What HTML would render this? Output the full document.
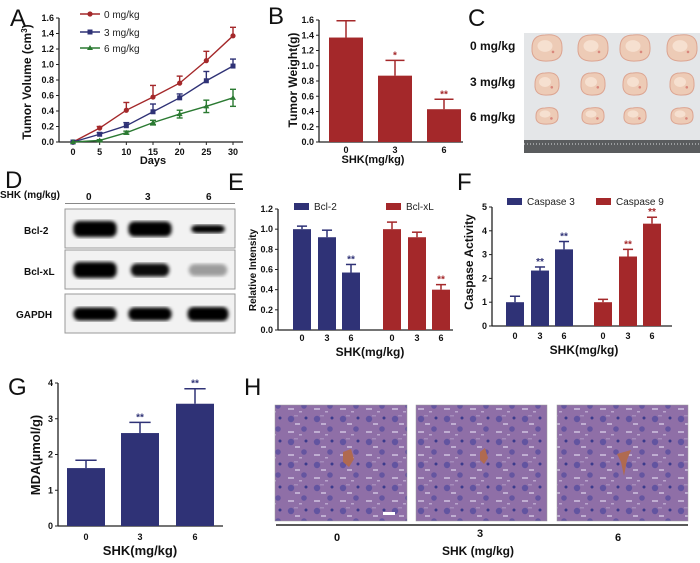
<!DOCTYPE html>
<html><head><meta charset="utf-8"><style>
body{margin:0;background:#fff}
svg{display:block;font-family:"Liberation Sans",Arial,sans-serif}
.t{font-size:9px;font-weight:bold;fill:#111}
.ti{font-size:11px;font-weight:bold;fill:#111}
.L{font-size:24px;fill:#111}
</style></head><body>
<svg id="s" width="700" height="563" viewBox="0 0 700 563" xmlns="http://www.w3.org/2000/svg">
<defs>
<filter id="bl2"><feGaussianBlur stdDeviation="1.8"/></filter>
<pattern id="hist" width="26" height="23" patternUnits="userSpaceOnUse">
<rect width="26" height="23" fill="#8f6fa7"/>
<circle cx="5" cy="5" r="3.2" fill="#5a4f9f" opacity="0.85"/>
<circle cx="18" cy="15" r="2.8" fill="#5a4f9f" opacity="0.8"/>
<circle cx="20" cy="4" r="1.5" fill="#3b3a8c"/>
<rect x="9" y="9" width="5" height="2" fill="#cbbddc" opacity="0.8"/>
<rect x="2" y="17" width="6" height="2" fill="#cbbddc" opacity="0.8"/>
<rect x="13" y="20" width="3" height="1.5" fill="#cbbddc" opacity="0.7"/>
<rect x="8" y="1" width="4" height="1.5" fill="#a58cbb"/>
</pattern>
</defs>
<g id="root"></g>
<text class="L" x="10" y="26">A</text>
<text class="L" x="268" y="24">B</text>
<text class="L" x="468" y="26">C</text>
<text class="L" x="5" y="188">D</text>
<text class="L" x="228" y="190">E</text>
<text class="L" x="457" y="190">F</text>
<text class="L" x="8" y="395">G</text>
<text class="L" x="244" y="395">H</text>

<g>
<rect x="524" y="33" width="176" height="120" fill="#e4e6e8"/>
<rect x="524" y="140" width="176" height="13" fill="#5a5c5e"/>
<line x1="524" y1="144" x2="700" y2="144" stroke="#9a9c9e" stroke-width="2" stroke-dasharray="1 2"/>
<g id="tumors"></g>
</g>
<text class="ti" x="470" y="50" style="font-size:12px">0 mg/kg</text>
<text class="ti" x="470" y="86" style="font-size:12px">3 mg/kg</text>
<text class="ti" x="470" y="121" style="font-size:12px">6 mg/kg</text>

<g>
<text class="t" x="0" y="198" style="font-size:10px">SHK (mg/kg)</text>
<text class="t" x="86" y="200" style="font-size:10px">0</text>
<text class="t" x="145" y="200" style="font-size:10px">3</text>
<text class="t" x="206" y="200" style="font-size:10px">6</text>
<line x1="65" y1="203.5" x2="235" y2="203.5" stroke="#888" stroke-width="1"/>
<text class="t" x="24" y="234" style="font-size:10px">Bcl-2</text>
<text class="t" x="24" y="275" style="font-size:10px">Bcl-xL</text>
<text class="t" x="16" y="318" style="font-size:10px">GAPDH</text>
<g id="blot"></g>
</g>

<g>
<rect x="275" y="405" width="132" height="116" fill="url(#hist)" stroke="#999" stroke-width="0.5"/>
<rect x="416" y="405" width="131" height="116" fill="url(#hist)" stroke="#999" stroke-width="0.5"/>
<rect x="557" y="405" width="131" height="116" fill="url(#hist)" stroke="#999" stroke-width="0.5"/>
<path d="M343 452 l8 -3 l3 10 l-5 8 l-6 -5z" fill="#b06a50"/>
<path d="M480 452 l5 -4 l3 10 l-4 6 l-4 -4z" fill="#b06a50"/>
<path d="M617 454 l14 -4 l-4 10 l-3 16 l-3 -14z" fill="#b06a50"/>
<rect x="383" y="512" width="12" height="3" fill="#fff"/>
<line x1="276" y1="525" x2="688" y2="525" stroke="#222" stroke-width="1.5"/>
<text class="ti" x="337" y="541" text-anchor="middle">0</text>
<text class="ti" x="480" y="537" text-anchor="middle">3</text>
<text class="ti" x="618" y="541" text-anchor="middle">6</text>
<text class="ti" x="478" y="555" text-anchor="middle" style="font-size:12px">SHK (mg/kg)</text>
</g>
</svg>
<script>
const daysA = [0,5,10,15,20,25,30];
const volCtrl = [0,0.18,0.41,0.58,0.76,1.05,1.37];
const volCtrlErr = [0,0.02,0.1,0.15,0.09,0.12,0.11];
const vol3 = [0,0.1,0.21,0.39,0.57,0.79,0.98];
const vol3Err = [0,0.02,0.04,0.1,0.05,0.12,0.09];
const vol6 = [0,0.02,0.12,0.25,0.36,0.46,0.57];
const vol6Err = [0,0.01,0.02,0.03,0.05,0.08,0.11];
const ticksA = [0,0.2,0.4,0.6,0.8,1.0,1.2,1.4,1.6];
const doseCats = ["0","3","6"];
const weightB = [1.37,0.87,0.43];
const weightBErr = [0.22,0.2,0.13];
const starsB = ["","*","**"];
const bcl2 = [1.0,0.92,0.57];
const bcl2Err = [0.03,0.07,0.08];
const bclxl = [1.0,0.92,0.4];
const bclxlErr = [0.07,0.05,0.05];
const starsE = ["","","**"];
const ticksE = [0,0.2,0.4,0.6,0.8,1.0,1.2];
const casp3 = [1,2.33,3.22];
const casp3Err = [0.25,0.15,0.33];
const casp9 = [1,2.92,4.3];
const casp9Err = [0.12,0.3,0.27];
const starsF = ["","**","**"];
const ticksF = [0,1,2,3,4,5];
const mda = [1.62,2.6,3.42];
const mdaErr = [0.22,0.3,0.42];
const starsG = ["","**","**"];
const ticksG = [0,1,2,3,4];

const NS="http://www.w3.org/2000/svg";
const root=document.getElementById('root');
function el(tag,attrs,parent,txt){const e=document.createElementNS(NS,tag);for(const k in attrs)e.setAttribute(k,attrs[k]);if(txt!==undefined)e.textContent=txt;(parent||root).appendChild(e);return e;}
const BLUE="#2f3276", RED="#a4282a", GREEN="#2b7a32";

function axes(g,x0,x1,y0,ticks,ys,fmt){
  const ax=el('line',{x1:x0,y1:ys(ticks[ticks.length-1]),x2:x0,y2:y0,stroke:'#222','stroke-width':1.3},g);
  
  
  const bx=el('line',{x1:x0,y1:y0,x2:x1,y2:y0,stroke:'#222','stroke-width':1.3},g);
  
  
  ticks.forEach(t=>{const y=ys(t);
    el('line',{x1:x0-3,y1:y,x2:x0,y2:y,stroke:'#222','stroke-width':1},g);
    const tl=el('text',{x:x0-5,y:y+3,'text-anchor':'end',class:'t'},g,fmt(t));
    
    
  });
}
function ytitle(g,x,y,txt,size){const t=el('text',{x:x,y:y,transform:`rotate(-90 ${x} ${y})`,'text-anchor':'middle',class:'ti',style:`font-size:${size||11}px`},g,txt);
  
  }
function xtitle(g,x,y,txt,size){const t=el('text',{x:x,y:y,'text-anchor':'middle',class:'ti',style:`font-size:${size||12}px`},g,txt);
  
  }
function bar(g,cx,w,v,err,ys,y0,color,star,name){
  const top=ys(v), et=ys(v+err);
  el('line',{x1:cx,y1:top,x2:cx,y2:et,stroke:color,'stroke-width':1.5},g);
  el('line',{x1:cx-w*0.28,y1:et,x2:cx+w*0.28,y2:et,stroke:color,'stroke-width':1.5},g);
  const r=el('rect',{x:cx-w/2,y:top,width:w,height:y0-top,fill:color},g);
  
  
  if(star){const s=el('text',{x:cx,y:et-2,'text-anchor':'middle',fill:color,style:'font-size:10px;font-weight:bold'},g,star);
    
    }
}
function xlabel(g,x,y,t){const l=el('text',{x:x,y:y,'text-anchor':'middle',class:'t'},g,t);
  
  }

(function(){
  const g=el('g',{});  
  const xs=d=>73+d/30*160, ys=v=>142-v/1.6*124;
  axes(g,59,243,142,ticksA,ys,t=>t.toFixed(1));
  daysA.forEach(d=>{el('line',{x1:xs(d),y1:142,x2:xs(d),y2:145,stroke:'#222'},g);xlabel(g,xs(d),155,d);});
  xtitle(g,153,164,'Days',11);
  const yt=el('text',{x:31,y:82,transform:'rotate(-90 31 82)','text-anchor':'middle',class:'ti',style:'font-size:12px'},g);
  
  
  el('tspan',{},yt,'Tumor Volume (cm');el('tspan',{dy:-4,style:'font-size:8px'},yt,'3');el('tspan',{dy:4},yt,')');
  const series=[[volCtrl,volCtrlErr,RED,'circle','series-0mg'],[vol3,vol3Err,BLUE,'square','series-3mg'],[vol6,vol6Err,GREEN,'tri','series-6mg']];
  series.forEach(([v,e,c,m,n],si)=>{
    const sg=el('g',{},g);  
    v.forEach((val,i)=>{ if(e[i]>0){const x=xs(daysA[i]);
      const lo= si===2? ys(val-e[i]) : ys(val);
      el('line',{x1:x,y1:ys(val+e[i]),x2:x,y2:lo,stroke:c,'stroke-width':1.4},sg);
      el('line',{x1:x-3,y1:ys(val+e[i]),x2:x+3,y2:ys(val+e[i]),stroke:c,'stroke-width':1.4},sg);
      if(si===2)el('line',{x1:x-3,y1:lo,x2:x+3,y2:lo,stroke:c,'stroke-width':1.4},sg);}});
    el('polyline',{points:v.map((val,i)=>xs(daysA[i])+','+ys(val)).join(' '),fill:'none',stroke:c,'stroke-width':1.4},sg);
    v.forEach((val,i)=>{const x=xs(daysA[i]),y=ys(val);
      if(m==='circle')el('circle',{cx:x,cy:y,r:2.6,fill:c},sg);
      else if(m==='square')el('rect',{x:x-2.5,y:y-2.5,width:5,height:5,fill:c},sg);
      else el('polygon',{points:`${x},${y-3} ${x-3},${y+2} ${x+3},${y+2}`,fill:c},sg);});
  });
  const leg=[['0 mg/kg',RED,'circle',14],['3 mg/kg',BLUE,'square',32],['6 mg/kg',GREEN,'tri',48]];
  leg.forEach(([t,c,m,y])=>{const lg=el('g',{},g);
    el('line',{x1:80,y1:y,x2:100,y2:y,stroke:c,'stroke-width':1.4},lg);
    if(m==='circle')el('circle',{cx:90,cy:y,r:2.6,fill:c},lg);else if(m==='square')el('rect',{x:87.5,y:y-2.5,width:5,height:5,fill:c},lg);else el('polygon',{points:`90,${y-3} 87,${y+2} 93,${y+2}`,fill:c},lg);
    el('text',{x:104,y:y+4,style:'font-size:10px',fill:'#222'},lg,t);});
})();

(function(){
  const g=el('g',{});  
  const ys=v=>142-v/1.6*122;
  axes(g,319,463,142,ticksA,ys,t=>t.toFixed(1));
  const cx=[346,395,444];
  doseCats.forEach((c,i)=>{bar(g,cx[i],34,weightB[i],weightBErr[i],ys,142,RED,starsB[i],'bar-'+c);xlabel(g,cx[i],153,c);});
  xtitle(g,373,163,'SHK(mg/kg)',11);
  ytitle(g,297,80,'Tumor Weight(g)',12);
})();

(function(){
  const tg=document.getElementById('tumors');
  const cols=[547,593,635,682], rows=[[48,15,13],[84,12,11],[116,11,8]];
  rows.forEach(([y,rx,ry],ri)=>cols.forEach((x,ci)=>{
    el('path',{d:`M${x-rx} ${y} Q${x-rx} ${y-ry} ${x-2} ${y-ry} Q${x+rx} ${y-ry-2} ${x+rx} ${y-1} Q${x+rx+1} ${y+ry} ${x+1} ${y+ry} Q${x-rx-1} ${y+ry+1} ${x-rx} ${y}z`,fill:'#edcbb6',stroke:'#dca592','stroke-width':1},tg);
    el('ellipse',{cx:x-2,cy:y-2,rx:rx*0.5,ry:ry*0.45,fill:'#f6e0d0'},tg);
    el('circle',{cx:x+rx*0.4,cy:y+ry*0.3,r:1.3,fill:'#cc5a55',opacity:0.6},tg);
  }));
})();

(function(){
  const b=document.getElementById('blot');
  const boxes=[209,250,294];
  boxes.forEach(y=>el('rect',{x:65,y:y,width:170,height:39,fill:'#f2f2f2',stroke:'#999','stroke-width':1},b));
  const lanes=[95,150,208];
  const bands=[[[18,16,1],[18,15,1],[14,8,1]],[[18,16,1],[16,13,0.95],[16,12,0.35]],[[18,13,1],[18,13,1],[17,14,1]]];
  bands.forEach((row,ri)=>row.forEach(([w,h,o],li)=>{
    el('rect',{x:lanes[li]-w*1.2,y:boxes[ri]+20-h/2,width:w*2.4,height:h,rx:6,fill:'#000',opacity:o,filter:'url(#bl2)'},b);
  }));
})();

(function(){
  const g=el('g',{});  
  const y0=330, ys=v=>y0-v/1.2*121;
  axes(g,278,453,y0,ticksE,ys,t=>t.toFixed(1));
  const c1=[302,327,351], c2=[392,417,441];
  doseCats.forEach((c,i)=>{bar(g,c1[i],18,bcl2[i],bcl2Err[i],ys,y0,BLUE,starsE[i],'bar-bcl2-'+c);xlabel(g,c1[i],341,c);
    bar(g,c2[i],18,bclxl[i],bclxlErr[i],ys,y0,RED,starsE[i],'bar-bclxl-'+c);xlabel(g,c2[i],341,c);});
  xtitle(g,370,356,'SHK(mg/kg)',12);
  ytitle(g,256,270,'Relative Intensity',10);
  [[294,'Bcl-2',BLUE],[386,'Bcl-xL',RED]].forEach(([x,t,c])=>{const lg=el('g',{},g);
    el('rect',{x:x,y:203,width:15,height:7,fill:c},lg);el('text',{x:x+20,y:210,style:'font-size:10px',fill:'#222'},lg,t);});
})();

(function(){
  const g=el('g',{});  
  const y0=326, ys=v=>y0-v/5*119;
  axes(g,492,672,y0,ticksF,ys,t=>t);
  const c1=[515,540,564], c2=[603,628,652];
  doseCats.forEach((c,i)=>{bar(g,c1[i],18,casp3[i],casp3Err[i],ys,y0,BLUE,starsF[i],'bar-casp3-'+c);xlabel(g,c1[i],339,c);
    bar(g,c2[i],18,casp9[i],casp9Err[i],ys,y0,RED,starsF[i],'bar-casp9-'+c);xlabel(g,c2[i],339,c);});
  xtitle(g,584,354,'SHK(mg/kg)',12);
  ytitle(g,473,262,'Caspase  Activity',12);
  [[507,'Caspase 3',BLUE],[596,'Caspase 9',RED]].forEach(([x,t,c])=>{const lg=el('g',{},g);
    el('rect',{x:x,y:198,width:15,height:7,fill:c},lg);el('text',{x:x+20,y:205,style:'font-size:10px',fill:'#222'},lg,t);});
})();

(function(){
  const g=el('g',{});  
  const y0=526, ys=v=>y0-v/4*143;
  axes(g,58,223,y0,ticksG,ys,t=>t);
  const cx=[86,140,195];
  doseCats.forEach((c,i)=>{bar(g,cx[i],38,mda[i],mdaErr[i],ys,y0,BLUE,starsG[i],'bar-mda-'+c);xlabel(g,cx[i],540,c);});
  xtitle(g,140,555,'SHK(mg/kg)',13);
  ytitle(g,40,455,'MDA(\u00b5mol/g)',13);
})();
</script>
</body></html>
